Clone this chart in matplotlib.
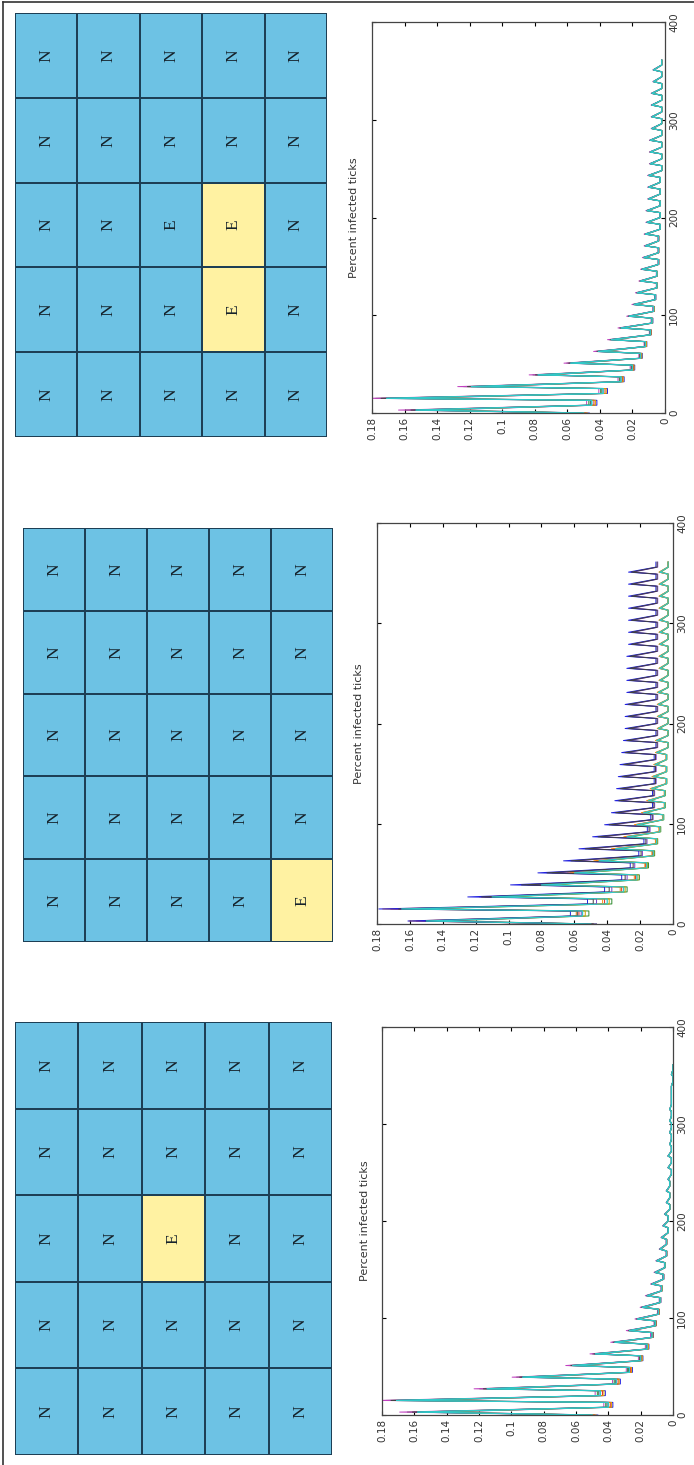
import numpy as np
import matplotlib
matplotlib.use('Agg')
import matplotlib.pyplot as plt
from matplotlib.colors import ListedColormap
from matplotlib.lines import Line2D

W, H = 694, 1465

# ---- grid states (as drawn, rotated page) ----
top_labels = ["NNNNN", "NNNNN", "NNEEN", "NNNEN", "NNNNN"]
top_fill = [[0, 0, 0, 0, 0], [0, 0, 0, 0, 0], [0, 0, 0, 1, 0], [0, 0, 0, 1, 0], [0, 0, 0, 0, 0]]
mid_labels = ["NNNNN", "NNNNN", "NNNNN", "NNNNN", "NNNNE"]
mid_fill = [[0, 0, 0, 0, 0], [0, 0, 0, 0, 0], [0, 0, 0, 0, 0], [0, 0, 0, 0, 0], [0, 0, 0, 0, 1]]
bot_labels = ["NNNNN", "NNNNN", "NNENN", "NNNNN", "NNNNN"]
bot_fill = [[0, 0, 0, 0, 0], [0, 0, 0, 0, 0], [0, 0, 1, 0, 0], [0, 0, 0, 0, 0], [0, 0, 0, 0, 0]]

# ---- percent infected ticks: peak / trough of each cycle ----
peak_days = np.arange(3, 360, 12)
start_value = 0.05

top_peaks = [0.153, 0.171, 0.119, 0.078, 0.058, 0.041, 0.033, 0.027, 0.022, 0.019,
             0.017, 0.015, 0.014, 0.013, 0.012, 0.012, 0.011, 0.011, 0.010, 0.010,
             0.010, 0.009, 0.009, 0.009, 0.008, 0.008, 0.008, 0.008, 0.007, 0.007]
top_troughs = [0.045, 0.038, 0.027, 0.020, 0.015, 0.012, 0.009, 0.008, 0.007, 0.006,
               0.005, 0.005, 0.004, 0.004, 0.004, 0.003, 0.003, 0.003, 0.003, 0.003,
               0.002, 0.002, 0.002, 0.002, 0.002, 0.002, 0.002, 0.002, 0.002, 0.002]

mid_peaks_hi = [0.155, 0.172, 0.120, 0.095, 0.079, 0.064, 0.055, 0.047, 0.040, 0.036,
                0.034, 0.033, 0.032, 0.031, 0.030, 0.029, 0.028, 0.028, 0.028, 0.027,
                0.027, 0.027, 0.027, 0.026, 0.026, 0.026, 0.026, 0.026, 0.026, 0.026]
mid_troughs_hi = [0.060, 0.050, 0.040, 0.030, 0.025, 0.020, 0.017, 0.015, 0.013, 0.012,
                  0.012, 0.011, 0.011, 0.011, 0.010, 0.010, 0.010, 0.010, 0.010, 0.010,
                  0.010, 0.010, 0.010, 0.010, 0.010, 0.010, 0.010, 0.010, 0.010, 0.010]
mid_peaks_lo = [0.150, 0.165, 0.110, 0.080, 0.060, 0.045, 0.035, 0.028, 0.022, 0.018,
                0.015, 0.013, 0.012, 0.011, 0.010, 0.010, 0.009, 0.009, 0.009, 0.009,
                0.008, 0.008, 0.008, 0.008, 0.008, 0.008, 0.008, 0.008, 0.008, 0.008]
mid_troughs_lo = [0.055, 0.040, 0.030, 0.022, 0.016, 0.012, 0.010, 0.008, 0.006, 0.005,
                  0.005, 0.004, 0.004, 0.004, 0.003, 0.003, 0.003, 0.003, 0.003, 0.003,
                  0.003, 0.003, 0.003, 0.003, 0.003, 0.003, 0.003, 0.003, 0.003, 0.003]

bot_peaks = [0.158, 0.171, 0.115, 0.093, 0.062, 0.048, 0.036, 0.027, 0.022, 0.019,
             0.016, 0.013, 0.011, 0.010, 0.008, 0.007, 0.006, 0.005, 0.004, 0.004,
             0.003, 0.003, 0.003, 0.002, 0.002, 0.002, 0.002, 0.001, 0.001, 0.001]
bot_troughs = [0.040, 0.045, 0.035, 0.027, 0.020, 0.016, 0.013, 0.011, 0.009, 0.008,
               0.007, 0.006, 0.005, 0.004, 0.004, 0.003, 0.003, 0.002, 0.002, 0.002,
               0.001, 0.001, 0.001, 0.001, 0.001, 0.001, 0.001, 0.001, 0.000, 0.000]

# per-line spread around the group curve
line_spread = [0.93, 1.04, 0.97, 1.07, 0.95, 1.02, 1.0]
matlab_colors = ['#1f1fe0', '#2e8b2e', '#e02020', '#c040c0', '#e0a000', '#404040', '#30c8c8']
value_ticks = np.arange(0, 0.19, 0.02)
value_labels = ['0', '0.02', '0.04', '0.06', '0.08', '0.1', '0.12', '0.14', '0.16', '0.18']
day_ticks = [0, 100, 200, 300, 400]

BLUE = '#6dc2e4'
YELLOW = '#fff2a2'


def fig_box(x0, y0, x1, y1):
    return [x0 / W, 1 - y1 / H, (x1 - x0) / W, (y1 - y0) / H]


def series(peaks, troughs, scale=1.0):
    # sharp peak, fall to trough, trough held until next rise
    days = [0]
    vals = [start_value * scale]
    for d, p, t in zip(peak_days, peaks, troughs):
        days += [d, d + 5, d + 10]
        vals += [p * scale, t * scale, t * scale]
    return np.array(vals), np.array(days)


def draw_grid(rect, labels, fill):
    ax = fig.add_axes(fig_box(*rect))
    ax.pcolormesh(np.array(fill), cmap=ListedColormap([BLUE, YELLOW]), vmin=0, vmax=1,
                  edgecolors='#1d3f55', linewidth=1.2)
    for r, row in enumerate(labels):
        for c, lab in enumerate(row):
            ax.text(c + 0.5, r + 0.5, lab, rotation=90, ha='center', va='center',
                    family='Liberation Serif', fontsize=12.5, color='#15222b')
    ax.set_xlim(0, 5)
    ax.set_ylim(5, 0)
    ax.axis('off')


def draw_plot(rect, groups):
    ax = fig.add_axes(fig_box(*rect))
    for peaks, troughs, colors in groups:
        for col, s in zip(colors, line_spread):
            v, d = series(peaks, troughs, s)
            ax.plot(v, d, color=col, lw=0.7)
    # cyan lead line on top
    v, d = series(groups[0][0], groups[0][1], 1.0)
    ax.plot(v, d, color='#30c8c8', lw=0.9)
    ax.set_xlim(0.18, 0)
    ax.set_ylim(0, 400)
    ax.set_xticks(value_ticks)
    ax.set_xticklabels(value_labels, rotation=90, fontsize=7.5, color='#333333')
    ax.set_yticks(day_ticks)
    ax.set_yticklabels([str(t) for t in day_ticks], rotation=90, va='center', fontsize=7.5,
                       color='#333333')
    ax.yaxis.tick_right()
    ax.tick_params(direction='in', length=3, width=0.8, top=True, left=True, right=True,
                   bottom=True, labelleft=False, labeltop=False, pad=3)
    for sp in ax.spines.values():
        sp.set_color('#444444')
        sp.set_linewidth(0.9)
    ax.text(-0.06, 0.5, 'Percent infected ticks', rotation=90, ha='center', va='center',
            transform=ax.transAxes, fontsize=8, color='#333333')


fig = plt.figure(figsize=(W / 100, H / 100), dpi=100)

draw_grid((15, 13, 327, 437), top_labels, top_fill)
draw_plot((372, 22, 665, 413), [(top_peaks, top_troughs, matlab_colors)])

draw_grid((23, 528, 333, 942), mid_labels, mid_fill)
draw_plot((377, 523, 673, 924), [
    (mid_peaks_lo, mid_troughs_lo, ['#2e8b2e', '#e02020', '#c8a000', '#ff8c00']),
    (mid_peaks_hi, mid_troughs_hi, ['#7a3cc8', '#1f1fe0', '#404040']),
])

draw_grid((15, 1022, 332, 1455), bot_labels, bot_fill)
draw_plot((382, 1027, 673, 1415), [(bot_peaks, bot_troughs, matlab_colors)])

# page frame (left and top edges)
fig.add_artist(Line2D([3 / W, 3 / W], [0, 1 - 2 / H], color='#333333', lw=1.2))
fig.add_artist(Line2D([3 / W, 1], [1 - 2 / H, 1 - 2 / H], color='#333333', lw=1.2))

fig.savefig('out.png', dpi=100, facecolor='white')
